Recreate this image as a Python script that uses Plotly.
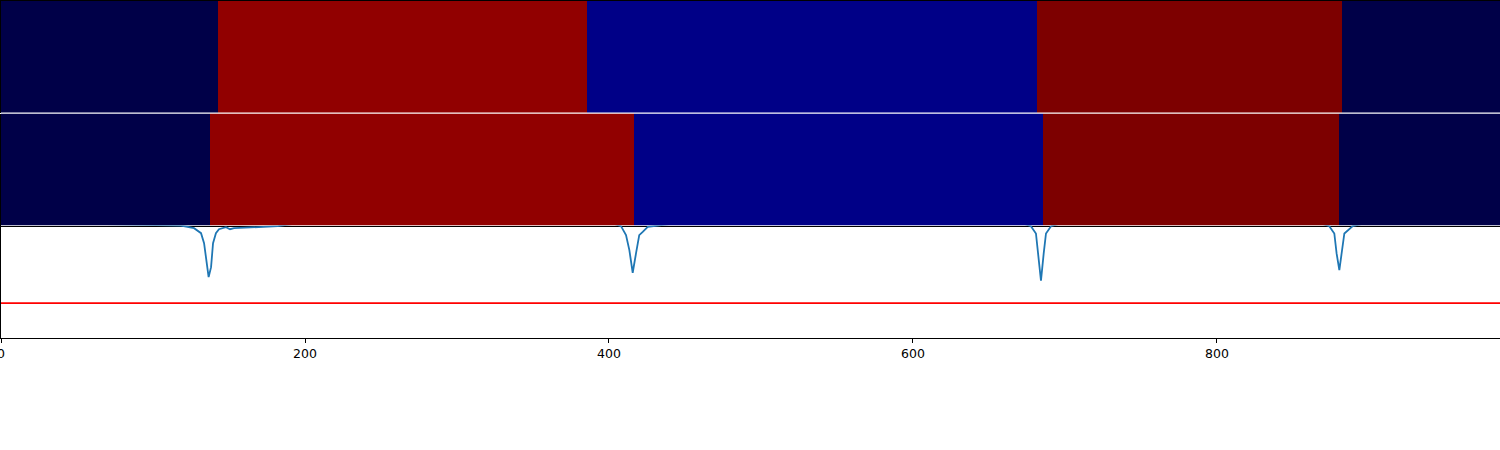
import plotly.graph_objects as go
from plotly.subplots import make_subplots

# ---- data ----
x_max = 986.2
# state segments (edges and state codes) for the two rows
row1_edges = [0, 142.8, 385.5, 681.6, 882.2, 986.2]
row1_codes = [0, 2, 1, 3, 0]
row2_edges = [0, 137.5, 416.4, 685.5, 880.3, 986.2]
row2_codes = [0, 2, 1, 3, 0]
state_colors = ["#000048", "#000087", "#910000", "#7d0000"]

# signal trace (baseline is above the visible range)
sig_x = [0, 118.4, 127.0, 131.6, 133.6, 135.5, 136.6, 138.2, 139.5, 141.4, 143.4,
         148.0, 150.7, 153.3, 164.5, 182.2, 200.0,
         400.0, 407.9, 411.2, 413.4, 415.6, 417.8, 419.9, 422.2, 425.5, 432.0, 450.0,
         670.0, 677.6, 680.9, 682.4, 684.2, 686.0, 687.5, 690.8, 700.0,
         866.0, 873.9, 877.2, 878.7, 880.5, 882.0, 883.8, 889.3, 900.0, 986.2]
sig_y = [1.03, 1.0, 0.976, 0.932, 0.843, 0.630, 0.541, 0.630, 0.843, 0.932, 0.967,
         0.985, 0.967, 0.976, 0.985, 0.994, 1.03,
         1.03, 0.994, 0.914, 0.781, 0.580, 0.754, 0.914, 0.943, 0.988, 1.0, 1.03,
         1.03, 0.994, 0.929, 0.752, 0.509, 0.752, 0.929, 0.994, 1.03,
         1.03, 0.994, 0.929, 0.752, 0.604, 0.752, 0.929, 0.994, 1.03, 1.03]
threshold = 0.31
tick_values = [0, 200, 400, 600, 800]

n_states = len(state_colors)
colorscale = []
for i, c in enumerate(state_colors):
    colorscale.append([i / n_states, c])
    colorscale.append([(i + 1) / n_states, c])

fig = make_subplots(rows=3, cols=1, shared_xaxes=True, vertical_spacing=0)

fig.add_trace(go.Heatmap(x=row1_edges, y=[0, 1], z=[row1_codes], zmin=-0.5, zmax=n_states - 0.5,
                         colorscale=colorscale, showscale=False, hoverinfo="skip"), row=1, col=1)
fig.add_trace(go.Heatmap(x=row2_edges, y=[0, 1], z=[row2_codes], zmin=-0.5, zmax=n_states - 0.5,
                         colorscale=colorscale, showscale=False, hoverinfo="skip"), row=2, col=1)
fig.add_trace(go.Scatter(x=sig_x, y=sig_y, mode="lines", line=dict(color="#1f77b4", width=1.8),
                         showlegend=False), row=3, col=1)
fig.add_trace(go.Scatter(x=[0, x_max], y=[threshold, threshold], mode="lines",
                         line=dict(color="red", width=1.6), showlegend=False), row=3, col=1)

H = 337.0
fig.update_layout(
    width=1500, height=450,
    margin=dict(l=1, r=0, t=1, b=112, autoexpand=False),
    paper_bgcolor="white", plot_bgcolor="white",
    font=dict(family="DejaVu Sans", size=12, color="black"),
    yaxis=dict(domain=[225.5 / H, 1]),
    yaxis2=dict(domain=[112.5 / H, 224.5 / H]),
    yaxis3=dict(domain=[0, 112.5 / H]),
)
for i in (1, 2, 3):
    fig.update_xaxes(range=[0, x_max], showgrid=False, zeroline=False, automargin=False,
                     row=i, col=1)
    fig.update_yaxes(showgrid=False, zeroline=False, showticklabels=False, ticks="",
                     automargin=False, showline=True, linecolor="black", linewidth=1,
                     range=[0, 1], row=i, col=1)
fig.update_xaxes(showticklabels=False, ticks="", showline=True, linecolor="black",
                 side="top", row=1, col=1)
fig.update_xaxes(showticklabels=False, ticks="", showline=True, linecolor="black", row=2, col=1)
fig.update_xaxes(ticks="outside", ticklen=4, tickcolor="black", tickvals=tick_values,
                 showline=True, linecolor="black", ticklabeloverflow="allow",
                 tickfont=dict(size=12.5), row=3, col=1)

fig.write_html("out.html", config={"displayModeBar": False},
               post_script="document.body.style.margin='0';")
